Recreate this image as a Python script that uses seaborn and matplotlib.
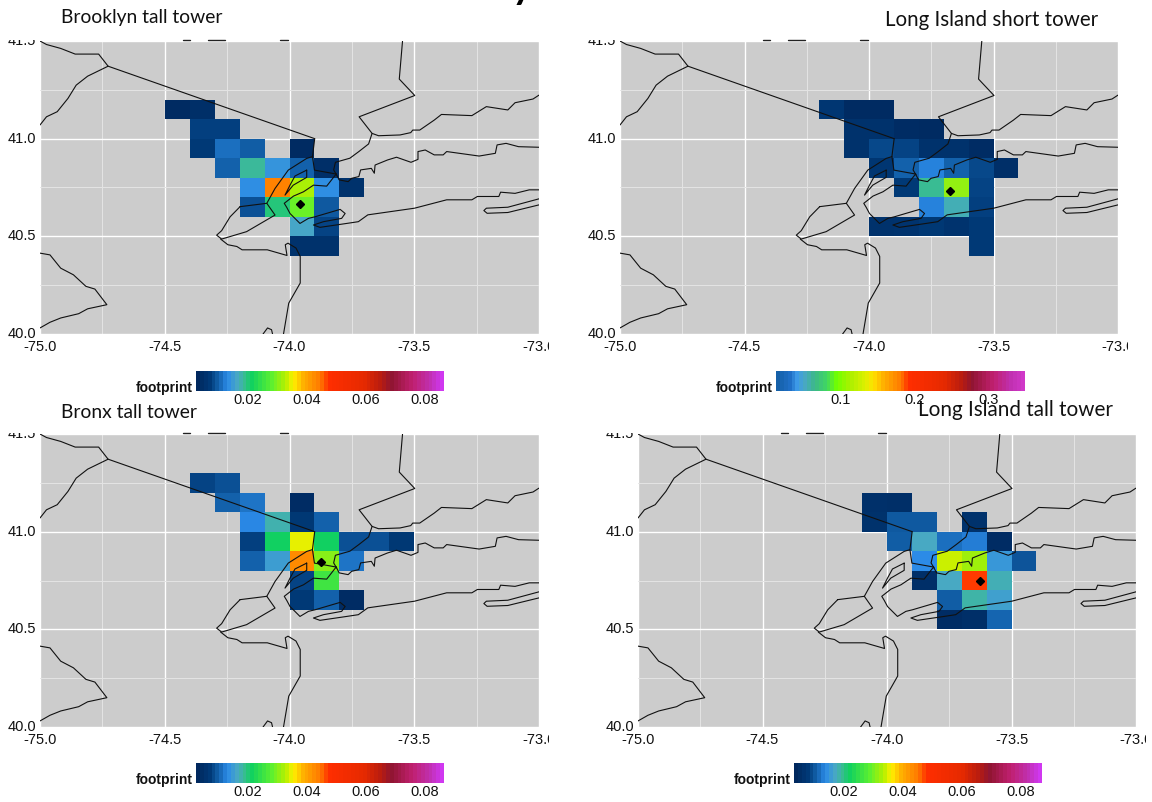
import numpy as np
import pandas as pd
import matplotlib
matplotlib.use("Agg")
import matplotlib.pyplot as plt
import seaborn as sns
from matplotlib.cm import ScalarMappable
from matplotlib.colors import LinearSegmentedColormap, Normalize
from matplotlib.lines import Line2D
from matplotlib.patches import Rectangle

# footprint cells, lon / lat = lower left corner of a 0.1 degree box
brooklyn_lon = [-74.5, -74.4, -74.4, -74.3, -74.4, -74.3, -74.2, -74.0, -74.3, -74.2, -74.1, -74.0, -73.9,
                -74.2, -74.1, -74.0, -73.9, -73.8, -74.2, -74.1, -74.0, -73.9, -74.0, -73.9, -74.0, -73.9]
brooklyn_lat = [41.1, 41.1, 41.0, 41.0, 40.9, 40.9, 40.9, 40.9, 40.8, 40.8, 40.8, 40.8, 40.8,
                40.7, 40.7, 40.7, 40.7, 40.7, 40.6, 40.6, 40.6, 40.6, 40.5, 40.5, 40.4, 40.4]
brooklyn_val = [.0035, .0044, .0073, .0073, .0069, .0111, .0098, .0035, .0101, .0182, .0140, .0102, .0044,
                .0132, .0437, .0324, .0132, .0052, .0086, .0199, .0286, .0094, .0161, .0077, .0052, .0052]

li_short_lon = [-74.2, -74.1, -74.0, -74.1, -74.0, -73.9, -73.8, -74.1, -74.0, -73.9, -73.8, -73.7, -73.6,
                -74.0, -73.9, -73.8, -73.7, -73.6, -73.5, -73.9, -73.8, -73.7, -73.6, -73.8, -73.7, -73.6,
                -74.0, -73.9, -73.8, -73.7, -73.6, -73.6]
li_short_lat = [41.1, 41.1, 41.1, 41.0, 41.0, 41.0, 41.0, 40.9, 40.9, 40.9, 40.9, 40.9, 40.9,
                40.8, 40.8, 40.8, 40.8, 40.8, 40.8, 40.7, 40.7, 40.7, 40.7, 40.6, 40.6, 40.6,
                40.5, 40.5, 40.5, 40.5, 40.5, 40.4]
li_short_val = [.0251, .0150, .0150, .0217, .0217, .0167, .0150, .0217, .0336, .0319, .0217, .0217, .0167,
                .0251, .0420, .0505, .0420, .0336, .0184, .0285, .0758, .1265, .0319, .0505, .0691, .0302,
                .0217, .0234, .0268, .0234, .0285, .0285]

bronx_lon = [-74.4, -74.3, -74.3, -74.2, -74.0, -74.2, -74.1, -74.0, -73.9, -74.2, -74.1, -74.0, -73.9, -73.8,
             -73.7, -73.6, -74.2, -74.1, -74.0, -73.9, -73.8, -74.0, -73.9, -74.0, -73.9, -73.8]
bronx_lat = [41.2, 41.2, 41.1, 41.1, 41.1, 41.0, 41.0, 41.0, 41.0, 40.9, 40.9, 40.9, 40.9, 40.9,
             40.9, 40.9, 40.8, 40.8, 40.8, 40.8, 40.8, 40.7, 40.7, 40.6, 40.6, 40.6]
bronx_val = [.0077, .0086, .0102, .0115, .0040, .0127, .0173, .0065, .0102, .0073, .0211, .0345, .0211, .0086,
             .0086, .0065, .0102, .0148, .0429, .0303, .0115, .0077, .0253, .0069, .0102, .0040]

li_tall_lon = [-74.1, -74.0, -74.1, -74.0, -73.9, -73.7, -74.0, -73.9, -73.8, -73.7, -73.6, -73.9, -73.8, -73.7,
               -73.6, -73.5, -73.9, -73.8, -73.7, -73.6, -73.8, -73.7, -73.6, -73.8, -73.7, -73.6]
li_tall_lat = [41.1, 41.1, 41.0, 41.0, 41.0, 41.0, 40.9, 40.9, 40.9, 40.9, 40.9, 40.8, 40.8, 40.8,
               40.8, 40.8, 40.7, 40.7, 40.7, 40.7, 40.6, 40.6, 40.6, 40.5, 40.5, 40.5]
li_tall_val = [.0051, .0047, .0055, .0097, .0097, .0055, .0101, .0165, .0114, .0123, .0043, .0135, .0341, .0320,
               .0148, .0093, .0047, .0165, .0476, .0173, .0101, .0181, .0156, .0043, .0047, .0106]

# tower locations
tower_lon = [-73.958, -73.673, -73.874, -73.625]
tower_lat = [40.665, 40.732, 40.845, 40.747]

panel_names = ["Brooklyn tall tower", "Long Island short tower", "Bronx tall tower", "Long Island tall tower"]

# state lines and coast
map_lines = [
    ([-75.0, -74.974, -74.917, -74.859, -74.765, -74.727, -73.899],
     [41.5, 41.482, 41.462, 41.433, 41.433, 41.371, 41.0]),
    ([-75.0, -74.974, -74.931, -74.888, -74.855, -74.809, -74.727],
     [41.07, 41.112, 41.138, 41.206, 41.274, 41.32, 41.371]),
    ([-73.547, -73.56, -73.498, -73.721, -73.669, -73.643, -73.557, -73.514, -73.506, -73.478, -73.42, -73.391,
      -73.269, -73.211, -73.125, -73.096, -73.024, -73.0],
     [41.5, 41.305, 41.221, 41.112, 41.027, 41.015, 41.019, 41.031, 41.044, 41.044, 41.095, 41.124,
      41.118, 41.164, 41.147, 41.184, 41.203, 41.223]),
    ([-73.669, -73.683, -73.722, -73.758, -73.816, -73.823, -73.811],
     [41.027, 40.973, 40.934, 40.9, 40.879, 40.84, 40.814]),
    ([-73.899, -73.908, -73.9, -73.813], [41.0, 40.908, 40.839, 40.819]),
    ([-74.198, -74.091, -74.058, -74.172, -74.272, -74.292, -74.272, -74.238, -74.198],
     [40.652, 40.669, 40.609, 40.524, 40.486, 40.506, 40.529, 40.6, 40.652]),
    ([-74.091, -74.058, -74.005, -73.931, -73.908], [40.669, 40.745, 40.839, 40.899, 40.908]),
    ([-73.931, -73.931, -73.985, -74.018, -73.998, -73.978, -73.931],
     [40.839, 40.802, 40.762, 40.711, 40.762, 40.809, 40.839]),
    ([-73.813, -73.801, -73.765, -73.751, -73.722, -73.715, -73.672, -73.66, -73.657, -73.607, -73.571, -73.513,
      -73.485, -73.485, -73.456, -73.42, -73.384, -73.37, -73.24, -73.175, -73.168, -73.132, -73.082, -73.0],
     [40.819, 40.789, 40.78, 40.797, 40.806, 40.84, 40.848, 40.823, 40.865, 40.891, 40.905, 40.879,
      40.894, 40.934, 40.942, 40.917, 40.917, 40.934, 40.911, 40.925, 40.968, 40.976, 40.959, 40.956]),
    ([-73.813, -73.851, -73.904, -73.944, -73.984, -74.021, -74.011, -73.998, -73.958, -73.924, -73.898, -73.797,
      -73.777, -73.791, -73.864, -73.904, -73.878, -73.771, -73.724, -73.686, -73.499, -73.37, -73.269, -73.247,
      -73.161, -73.154, -73.096, -73.039, -73.0],
     [40.819, 40.757, 40.762, 40.728, 40.706, 40.669, 40.648, 40.617, 40.566, 40.592, 40.6, 40.638,
      40.617, 40.592, 40.575, 40.558, 40.546, 40.566, 40.575, 40.61, 40.644, 40.687, 40.687, 40.704,
      40.704, 40.726, 40.72, 40.738, 40.738]),
    ([-73.0, -73.125, -73.211, -73.221, -73.208, -73.125, -73.0],
     [40.692, 40.649, 40.644, 40.632, 40.618, 40.622, 40.661]),
    ([-74.276, -74.247, -74.211, -74.19, -74.089, -74.01, -74.017, -74.006, -73.974, -73.957, -73.957, -74.003, -74.024],
     [40.486, 40.457, 40.448, 40.431, 40.431, 40.402, 40.457, 40.465, 40.44, 40.397, 40.261, 40.158, 40.0]),
    ([-74.106, -74.088, -74.072, -74.068], [40.0, 40.031, 40.022, 40.0]),
    ([-75.0, -74.96, -74.917, -74.866, -74.816, -74.78, -74.732, -74.809, -74.845, -74.917, -74.96, -75.0],
     [40.414, 40.405, 40.337, 40.303, 40.244, 40.23, 40.15, 40.129, 40.104, 40.082, 40.06, 40.031]),
]

xtick_vals = [-75.0, -74.5, -74.0, -73.5, -73.0]
ytick_vals = [40.0, 40.5, 41.0, 41.5]

# colour ramp
ramp = [(0, "#00285e"), (.05, "#003a78"), (.09, "#1565b0"), (.12, "#2b8ae8"), (.16, "#48a8c4"), (.19, "#38bd90"),
        (.22, "#10d060"), (.3, "#5cf030"), (.36, "#b4f000"), (.39, "#fff000"), (.43, "#ffb000"), (.5, "#ff7a00"),
        (.535, "#ff2e00"), (.68, "#e62a00"), (.75, "#b81c10"), (.79, "#8f1530"), (.88, "#c02070"), (.95, "#c030b0"),
        (1, "#d038f0")]
# short tower legend starts higher up the ramp
ramp_short = [(0, "#1560a8"), (.05, "#2070c8"), (.08, "#3d9ae8"), (.11, "#48a8c4"), (.15, "#3cb888"), (.2, "#40d860"),
              (.24, "#70ff00"), (.3, "#b0f000"), (.36, "#e0f000"), (.39, "#ffe000"), (.43, "#ffb000"), (.5, "#ff7a00"),
              (.535, "#ff2e00"), (.68, "#e62a00"), (.75, "#b81c10"), (.79, "#8f1530"), (.88, "#c02070"),
              (.95, "#c030b0"), (1, "#d038c8")]
cell_cmap = LinearSegmentedColormap.from_list("footprint", ramp, N=256)
bar_cmap = LinearSegmentedColormap.from_list("footprint_bar", ramp, N=64)
bar_cmap_short = LinearSegmentedColormap.from_list("footprint_bar2", ramp_short, N=64)

W, H = 1152, 802
sns.set_theme(style="white")
plt.rcParams["font.family"] = ["Liberation Sans", "DejaVu Sans"]
fig = plt.figure(figsize=(W / 100, H / 100), dpi=100, facecolor="white")


def px_box(x0, y0, x1, y1):
    # pixel box (y from the top) to figure fractions
    return [x0 / W, 1 - y1 / H, (x1 - x0) / W, (y1 - y0) / H]


def to_grid(lon, lat):
    return (np.array(lon) + 75) * 10, (np.array(lat) - 40) * 10


all_lons = np.round(np.arange(-75, -73, .1), 1)
all_lats = np.round(np.arange(40, 41.5, .1), 1)


def draw_panel(i, lons, lats, vals, box, bar_box, cbar_map, vmin, vmax, bar_ticks, bar_labels):
    ax = fig.add_axes(px_box(*box))
    cax = fig.add_axes(px_box(*bar_box))
    df = pd.DataFrame({"lon": lons, "lat": lats, "footprint": vals})
    grid = df.pivot(index="lat", columns="lon", values="footprint").reindex(index=all_lats, columns=all_lons)
    sns.heatmap(grid, ax=ax, cmap=cell_cmap, vmin=vmin, vmax=vmax, cbar=False, linewidths=0)
    ax.set_facecolor("#cccccc")
    ax.set_xlim(0, 20)
    ax.set_ylim(0, 15)
    ax.set_xlabel("")
    ax.set_ylabel("")

    gx, _ = to_grid(xtick_vals, ytick_vals[:1] * 5)
    _, gy = to_grid(xtick_vals[:4], ytick_vals)
    ax.set_xticks(gx)
    ax.set_xticklabels([f"{v:.1f}" for v in xtick_vals], fontsize=10.5, rotation=0)
    ax.set_yticks(gy)
    ax.set_yticklabels([f"{v:.1f}" for v in ytick_vals], fontsize=10.5, rotation=0)
    ax.set_xticks(gx[:-1] + 2.5, minor=True)
    ax.set_yticks(gy[:-1] + 2.5, minor=True)
    ax.tick_params(which="major", length=2, width=.6, color="#555555", labelcolor="#111111")
    ax.tick_params(axis="x", which="major", pad=2.5)
    ax.tick_params(axis="y", which="major", pad=1)
    ax.tick_params(which="minor", length=0)
    ax.grid(True, which="major", color="white", lw=1.0)
    ax.grid(True, which="minor", color="#e4e4e4", lw=.7)
    ax.set_axisbelow(True)
    for s in ax.spines.values():
        s.set_visible(False)

    for lon, lat in map_lines:
        mx, my = to_grid(lon, lat)
        ax.plot(mx, my, color="#111111", lw=.8, solid_joinstyle="round", zorder=3)
    tx, ty = to_grid([tower_lon[i]], [tower_lat[i]])
    ax.plot(tx, ty, marker="D", ms=3.6, color="black", ls="none", zorder=4)

    cbar = fig.colorbar(ScalarMappable(Normalize(vmin, vmax), cmap=cbar_map), cax=cax, orientation="horizontal",
                        ticks=bar_ticks)
    cbar.outline.set_visible(False)
    cbar.set_ticklabels(bar_labels)
    cax.tick_params(axis="x", which="both", length=3, width=.6, color="white", direction="in", top=True,
                    labelsize=10.5, pad=1.5, labelcolor="#111111")
    fig.text((bar_box[0] - 3) / W, 1 - (bar_box[3] - 3) / H, "footprint", ha="right", va="center",
             fontsize=10, fontweight="bold", color="#111111")

    # bits of a cropped heading left just above the plot
    for a, b in [(143, 150), (168, 185), (240, 248)]:
        fig.add_artist(Line2D([(box[0] + a) / W, (box[0] + b) / W], [1 - (box[1] - 1) / H] * 2, color="#222222",
                              lw=1, zorder=6))


ticks_small = [.02, .04, .06, .08]
labels_small = ["0.02", "0.04", "0.06", "0.08"]
draw_panel(0, brooklyn_lon, brooklyn_lat, brooklyn_val, (40, 41, 539, 334), (196, 371, 444, 391), bar_cmap,
           .0027, .0864, ticks_small, labels_small)
draw_panel(1, li_short_lon, li_short_lat, li_short_val, (620, 41, 1118, 334), (776, 371, 1025, 391), bar_cmap_short,
           .0116, .35, [.1, .2, .3], ["0.1", "0.2", "0.3"])
draw_panel(2, bronx_lon, bronx_lat, bronx_val, (40, 434, 539, 727), (196, 763, 444, 783), bar_cmap,
           .0027, .0864, ticks_small, labels_small)
draw_panel(3, li_tall_lon, li_tall_lat, li_tall_val, (638, 434, 1136, 727), (794, 763, 1042, 783), bar_cmap,
           .003, .0871, ticks_small, labels_small)

# white strips that crop the labels like the pasted slide does
for x0, y0, x1, y1 in [(0, 0, 620, 40), (620, 0, 1152, 40), (0, 427, 620, 433), (620, 427, 1152, 433),
                       (549, 336, 592, 356), (1128, 336, 1152, 356), (549, 729, 610, 749), (1146, 729, 1152, 749)]:
    l, b, w, h = px_box(x0, y0, x1, y1)
    fig.add_artist(Rectangle((l, b), w, h, transform=fig.transFigure, color="white", lw=0, zorder=5))

title_font = dict(family="Lato", va="center", zorder=6, color="#111111")
fig.text(61 / W, 1 - 18 / H, panel_names[0], fontsize=13.9, **title_font)
fig.text(885 / W, 1 - 20 / H, panel_names[1], fontsize=14.8, **title_font)
fig.text(61 / W, 1 - 412 / H, panel_names[2], fontsize=13.9, **title_font)
fig.text(918 / W, 1 - 410 / H, panel_names[3], fontsize=14.9, **title_font)

# tail of the cropped slide heading
fig.text(522 / W, 1 + 1 / H, "y", fontsize=28, fontweight="bold", family="Lato", ha="center", va="baseline",
         zorder=6, color="black")

fig.savefig("out.png", dpi=100)
